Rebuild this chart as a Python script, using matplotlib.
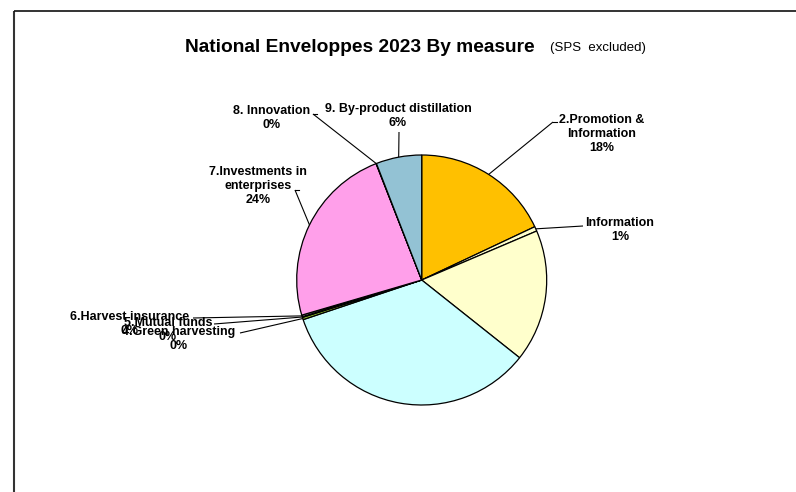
import numpy as np
import matplotlib
matplotlib.use("Agg")
import matplotlib.pyplot as plt

# ---- data ----
labels = ["2.Promotion &\nInformation", "Information", "", "",
          "4.Green harvesting", "5.Mutual funds", "6.Harvest insurance",
          "7.Investments in\nenterprises", "8. Innovation", "9. By-product distillation"]
values = [18.0, 0.6, 17.1, 34.2, 0.3, 0.1, 0.2, 23.6, 0.05, 5.9]
colors = ["#FFC000", "#FFFFCC", "#FFFFCC", "#CCFFFF", "#99CC33", "#FFFFFF",
          "#FFFFFF", "#FF9FEA", "#FFFFFF", "#93C2D4"]
title_main = "National Enveloppes 2023 By measure"
title_sub = "(SPS  excluded)"

W, H = 796, 492
fig = plt.figure(figsize=(W / 100, H / 100), dpi=100)
ax = fig.add_axes([0, 0, 1, 1])

def Y(y):
    return H - y

cx, cy, R = 421.7, 280, 125
wedges, _ = ax.pie(values, colors=colors, startangle=90, counterclock=False,
                   center=(cx, Y(cy)), radius=R, frame=True,
                   wedgeprops=dict(edgecolor="black", linewidth=0.9))
ax.set_xlim(0, W)
ax.set_ylim(0, H)
ax.set_aspect("equal")
ax.axis("off")

# label layout: (text center x, text center y, line end x, line end y)
layout = {
    0: (602, 134, 553, 122),
    1: (620, 230, 583, 226),
    4: (179, 339, 240, 333),
    5: (168, 330, 214, 324),
    6: (130, 324, 193, 318),
    7: (258, 186, 295, 190),
    8: (272, 118, 313, 114),
    9: (398, 116, 399, 132),
}
total = sum(values)
font = dict(family=["Liberation Sans", "DejaVu Sans"], fontweight="bold", fontsize=9)
for i, (tx, ty, lx, ly) in layout.items():
    w = wedges[i]
    mid = np.deg2rad((w.theta1 + w.theta2) / 2)
    ex = cx + R * np.cos(mid)
    ey = Y(cy) + R * np.sin(mid)
    pct = round(values[i] / total * 100)
    txt = f"{labels[i]}\n{pct}%"
    ax.text(tx, Y(ty), txt, ha="center", va="center", linespacing=1.25, **font)
    ax.plot([ex, lx], [ey, Y(ly)], color="black", lw=0.8, solid_capstyle="butt")
    if i in (0, 7, 8):
        ax.plot([lx, lx + 4], [Y(ly), Y(ly)], color="black", lw=0.8)

# title
ax.text(535, Y(47), title_main, ha="right", va="center",
        family=["Liberation Sans"], fontweight="bold", fontsize=13.8)
ax.text(550, Y(48), title_sub, ha="left", va="center",
        family=["Liberation Sans"], fontsize=9.5)

# frame
ax.plot([14, 14], [Y(11), 0], color="#333333", lw=1.5, solid_capstyle="butt")
ax.plot([14, W], [Y(11), Y(11)], color="#111111", lw=1.2, solid_capstyle="butt")

fig.savefig("out.png", dpi=100)
